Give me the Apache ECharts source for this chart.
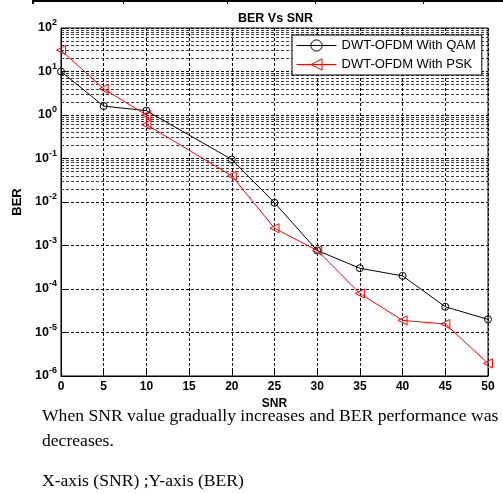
<!DOCTYPE html>
<html><head><meta charset="utf-8">
<script src="https://cdn.jsdelivr.net/npm/echarts@6/dist/echarts.min.js"></script>
<style>
html,body{margin:0;padding:0;background:#fff;}
#c{width:503px;height:494px;}
</style></head>
<body><div id="c"></div>
<script>
// ---- data ----
const titleText = 'BER Vs SNR';
const xName = 'SNR';
const yName = 'BER';
const seriesNames = ['DWT-OFDM With QAM', 'DWT-OFDM With PSK'];
const qamSNR = [0, 5, 10, 20, 25, 30, 35, 40, 45, 50];
const qamBER = [10, 1.6, 1.26, 0.095, 0.0096, 7.7e-4, 3.0e-4, 2.0e-4, 3.9e-5, 2.0e-5];
const pskSNR = [0, 5, 10, 10, 20, 25, 30, 35, 40, 45, 50];
const pskBER = [31, 4.0, 1.0, 0.6, 0.04, 0.0025, 7.7e-4, 7.9e-5, 1.9e-5, 1.57e-5, 1.96e-6];
const xTicks = [0, 5, 10, 15, 20, 25, 30, 35, 40, 45, 50];
const yTickExponents = [-6, -5, -4, -3, -2, -1, 0, 1, 2];
const minorMultipliers = [2, 3, 4, 5, 6, 7, 8, 9];
const captionLines = ['When SNR value gradually increases and BER performance was', 'decreases.', 'X-axis (SNR) ;Y-axis (BER)'];

const yMin = Math.pow(10, yTickExponents[0]);
const yMax = Math.pow(10, yTickExponents[yTickExponents.length - 1]);

// minor log grid lines (2..9 x 10^k)
const minorLines = [];
for (let i = 0; i < yTickExponents.length - 1; i++) {
  for (const m of minorMultipliers) {
    minorLines.push({ yAxis: m * Math.pow(10, yTickExponents[i]) });
  }
}

const chart = echarts.init(document.getElementById('c'), null, { renderer: 'canvas' });
const bold = { fontFamily: 'Liberation Sans, Arial', fontWeight: 'bold', color: '#000' };
const serifFont = '17.6px "Liberation Serif", "Times New Roman", serif';

chart.setOption({
  animation: false,
  backgroundColor: '#fff',
  title: {
    text: titleText, left: 233, top: 7,
    textStyle: { fontFamily: 'Liberation Sans, Arial', fontWeight: 'bold', fontSize: 12.5, color: '#000', letterSpacing: -0.6 }
  },
  grid: { left: 61, right: 15, top: 28, bottom: 118, show: true, borderColor: '#000', borderWidth: 1, backgroundColor: 'transparent' },
  legend: {
    orient: 'vertical', left: 292, top: 35, itemGap: 6, z: 20,
    itemWidth: 40, itemHeight: 14,
    backgroundColor: '#fff', borderColor: '#000', borderWidth: 1,
    padding: [4, 6, 4, 4],
    itemStyle: { borderWidth: 1 },
    lineStyle: { width: 1 },
    textStyle: { fontFamily: 'Liberation Sans, Arial', fontSize: 13, color: '#000' },
    data: seriesNames
  },
  xAxis: {
    type: 'value', min: xTicks[0], max: xTicks[xTicks.length - 1], interval: xTicks[1] - xTicks[0],
    name: xName, nameLocation: 'middle', nameGap: 21,
    nameTextStyle: Object.assign({ fontSize: 12 }, bold),
    axisLine: { show: true, onZero: false, lineStyle: { color: '#000', width: 1 } },
    axisTick: { show: true, inside: true, length: 5, lineStyle: { color: '#000' } },
    axisLabel: Object.assign({ fontSize: 12, margin: 5 }, bold),
    splitLine: { show: true, lineStyle: { color: '#000', type: [3, 2], width: 1 } }
  },
  yAxis: {
    type: 'log', logBase: 10, min: yMin, max: yMax, splitNumber: 8,
    name: yName, nameLocation: 'middle', nameGap: 33, nameRotate: 90,
    nameTextStyle: Object.assign({ fontSize: 13 }, bold),
    axisLine: { show: true, lineStyle: { color: '#000', width: 1 } },
    axisTick: { show: true, inside: true, length: 5, lineStyle: { color: '#000' } },
    axisLabel: {
      margin: 4,
      formatter: function (v) {
        const e = Math.round(Math.log10(v));
        return '{b|10}{s|' + e + '}';
      },
      rich: {
        b: { fontFamily: 'Liberation Sans, Arial', fontWeight: 'bold', fontSize: 12.5, color: '#000' },
        s: { fontFamily: 'Liberation Sans, Arial', fontWeight: 'bold', fontSize: 9, color: '#000', padding: [0, 0, 10, 0] }
      }
    },
    splitLine: { show: true, lineStyle: { color: '#000', type: [3, 2], width: 1 } }
  },
  graphic: [
    { type: 'rect', shape: { x: 32, y: 0, width: 471, height: 2 }, style: { fill: '#000' } },
    { type: 'rect', shape: { x: 32, y: 0, width: 2, height: 4 }, style: { fill: '#000' } },
    { type: 'rect', shape: { x: 123, y: 0, width: 1, height: 4 }, style: { fill: '#000' } },
    { type: 'rect', shape: { x: 227, y: 0, width: 1, height: 4 }, style: { fill: '#000' } },
    { type: 'rect', shape: { x: 315, y: 0, width: 1, height: 4 }, style: { fill: '#000' } },
    { type: 'rect', shape: { x: 423, y: 0, width: 1, height: 4 }, style: { fill: '#000' } },
    { type: 'text', left: 42, top: 407, style: { text: captionLines[0], font: serifFont, fill: '#000' } },
    { type: 'text', left: 42, top: 432, style: { text: captionLines[1], font: serifFont, fill: '#000' } },
    { type: 'text', left: 42, top: 472, style: { text: captionLines[2], font: serifFont, fill: '#000' } }
  ],
  series: [
    {
      name: 'minorgrid', type: 'line', data: [], silent: true, z: 1,
      markLine: { silent: true, symbol: 'none', label: { show: false }, z: 1,
        lineStyle: { color: '#000', type: [3, 2], width: 1, opacity: 0.75 },
        data: minorLines }
    },
    {
      name: seriesNames[0], type: 'line', z: 5,
      data: qamSNR.map((x, i) => [x, qamBER[i]]),
      symbol: 'circle', symbolSize: 7,
      lineStyle: { color: '#000', width: 1 },
      itemStyle: { color: 'rgba(255,255,255,0)', borderColor: '#000', borderWidth: 1 }
    },
    {
      name: seriesNames[1], type: 'line', z: 6,
      data: pskSNR.map((x, i) => [x, pskBER[i]]),
      symbol: 'triangle', symbolRotate: 90, symbolSize: 9,
      lineStyle: { color: '#f00', width: 1 },
      itemStyle: { color: 'rgba(255,255,255,0)', borderColor: '#f00', borderWidth: 1 }
    }
  ]
});
</script></body></html>
